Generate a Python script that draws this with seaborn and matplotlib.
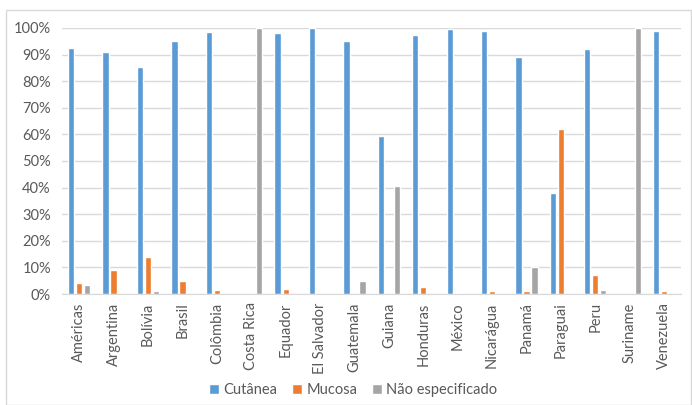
import matplotlib
matplotlib.use("Agg")
import matplotlib.pyplot as plt
import seaborn as sns
import pandas as pd
from matplotlib.patches import Rectangle
from matplotlib.ticker import FuncFormatter, MultipleLocator

categories = ["Américas", "Argentina", "Bolívia", "Brasil", "Colômbia", "Costa Rica",
              "Equador", "El Salvador", "Guatemala", "Guiana", "Honduras", "México",
              "Nicarágua", "Panamá", "Paraguai", "Peru", "Suriname", "Venezuela"]
cutanea = [92.5, 91, 85.5, 95, 98.5, 0, 98, 100, 95, 59.5, 97.5, 99.5, 99, 89, 38, 92, 0, 99]
mucosa = [4, 9, 14, 5, 1.5, 0, 2, 0, 0, 0, 2.5, 0.5, 1, 1, 62, 7, 0, 1]
nao_esp = [3.5, 0, 1, 0, 0, 100, 0, 0, 5, 40.5, 0, 0, 0, 10, 0, 1.5, 100, 0]
series_names = ["Cutânea", "Mucosa", "Não especificado"]
colors = ["#5B9BD5", "#ED7D31", "#A5A5A5"]

rows = []
for i, c in enumerate(categories):
    for name, vals in zip(series_names, [cutanea, mucosa, nao_esp]):
        rows.append({"País": c, "Forma": name, "Valor": vals[i]})
df = pd.DataFrame(rows)

sns.set_style("white")
plt.rcParams["font.family"] = ["Lato", "DejaVu Sans"]

fig = plt.figure(figsize=(6.92, 4.05), dpi=100)
fig.patches.append(Rectangle((0.008, 0.0), 0.99, 0.975, transform=fig.transFigure,
                             fill=False, edgecolor="#D9D9D9", linewidth=1))
ax = fig.add_axes([0.0896, 0.274, 0.895, 0.657])

sns.barplot(data=df, x="País", y="Valor", hue="Forma", order=categories,
            hue_order=series_names, palette=colors, width=0.7, gap=0.22,
            saturation=1, ax=ax, legend=True)

ax.set_ylim(0, 100)
ax.set_xlim(-0.5, len(categories) - 0.5)
ax.yaxis.set_major_locator(MultipleLocator(10))
ax.yaxis.set_major_formatter(FuncFormatter(lambda v, p: f"{int(round(v))}%"))
ax.grid(axis="y", color="#D9D9D9", linewidth=1)
ax.set_axisbelow(True)
for s in ["top", "right", "left"]:
    ax.spines[s].set_visible(False)
ax.spines["bottom"].set_color("#D9D9D9")
ax.set_xlabel("")
ax.set_ylabel("")
ax.tick_params(axis="y", labelsize=10.5, colors="#595959", length=0, pad=8)
ax.tick_params(axis="x", labelsize=10.5, colors="#595959", length=0, pad=6)
plt.setp(ax.get_xticklabels(), rotation=90)

ax.legend(loc="center", bbox_to_anchor=(0.47, -0.36), ncol=3, frameon=False,
          fontsize=10.5, handlelength=0.7, handleheight=0.7, handletextpad=0.3,
          columnspacing=1.0, labelcolor="#595959", borderpad=0.2)

fig.savefig("out.png", dpi=100)
